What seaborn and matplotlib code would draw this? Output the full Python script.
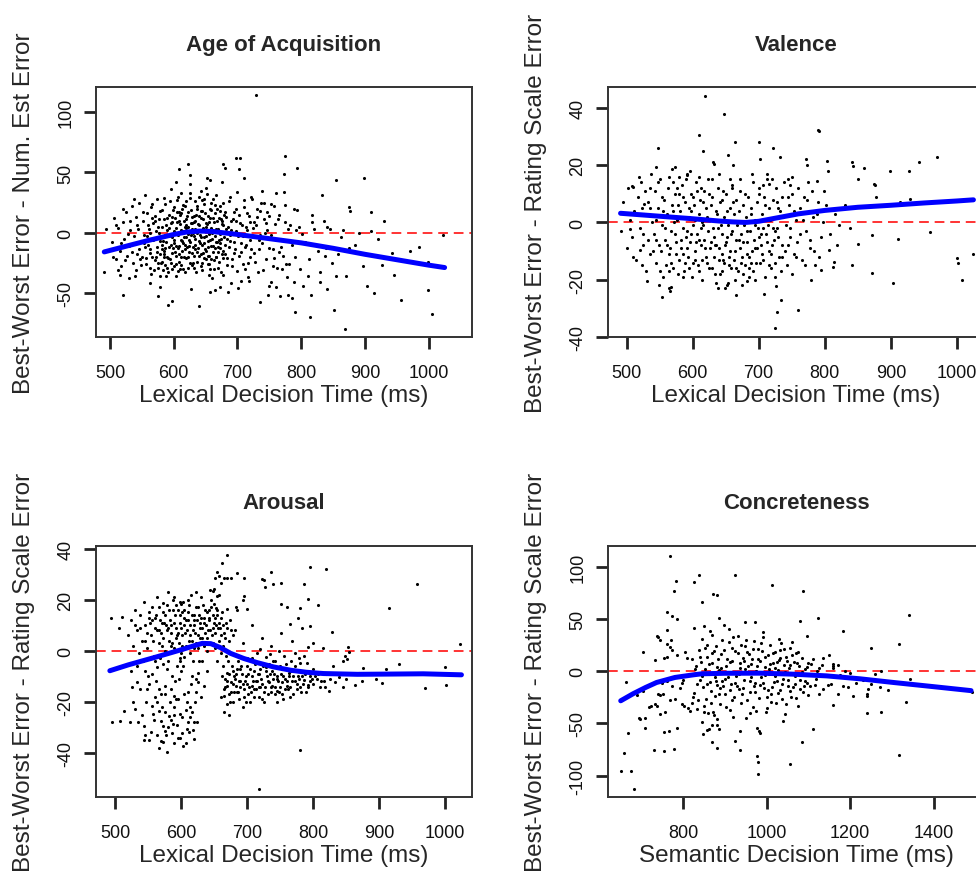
import matplotlib
matplotlib.use("Agg")
import matplotlib.pyplot as plt
import seaborn as sns

# ---- data (x = decision time in ms, y = error difference) ----

aoa_points = [
    (503, -8), (507, 12), (510, -22), (512, 4), (515, -15), (518, -28), (520, 9), (522, -5),
    (525, 17), (527, -19), (530, -11), (532, 2), (534, 22), (536, -25), (538, -3), (540, 13),
    (541, -31), (543, 6), (545, -14), (546, 25), (548, -7), (550, -20), (551, 10), (553, -2),
    (555, 31), (556, -26), (558, 16), (559, -10), (561, 3), (562, -17), (564, 21), (565, -34),
    (567, 8), (568, -6), (570, -23), (571, 14), (573, -12), (574, 28), (576, -29), (577, 0),
    (578, -18), (579, 18), (581, -24), (582, 5), (583, -31), (584, 11), (585, -15), (586, -27),
    (587, 24), (588, -8), (589, -20), (590, 2), (591, -33), (592, 15), (593, -12), (594, -22),
    (595, 8), (596, 36), (597, -4), (598, -17), (599, 19), (600, -28), (601, -9), (602, 12),
    (603, -19), (604, 4), (605, 27), (606, -13), (607, -2), (608, 17), (609, -24), (610, 7),
    (611, -6), (612, 33), (613, -15), (614, 1), (615, -30), (616, 10), (617, -10), (618, 22),
    (619, -4), (620, -21), (621, 14), (622, -1), (623, 5), (624, -16), (625, 40), (626, -8),
    (627, 19), (628, -27), (629, 3), (630, -12), (631, 9), (632, -19), (633, 26), (634, -5),
    (635, 15), (636, -24), (637, 0), (638, -13), (639, 30), (640, 6), (641, -9), (642, 18),
    (643, -18), (644, 2), (645, -31), (646, 11), (647, -4), (648, 24), (649, -14), (650, 37),
    (651, -22), (652, 7), (653, -7), (654, 14), (655, -26), (656, -1), (657, 20), (658, -11),
    (659, 4), (660, -38), (661, 28), (662, -16), (663, 9), (664, -3), (665, 16), (666, -20),
    (667, 31), (668, -8), (669, 1), (670, -29), (671, 12), (672, -13), (673, 22), (674, -5),
    (675, 42), (676, -18), (677, 6), (678, -35), (679, 15), (680, -10), (682, 3), (684, -21),
    (686, 26), (688, -7), (690, 10), (692, -28), (694, 17), (696, -14), (698, 1), (700, 34),
    (702, -19), (704, 8), (706, -40), (708, -3), (710, 21), (712, -12), (714, 5), (716, -25),
    (718, 14), (720, -6), (723, 28), (726, -17), (729, 6), (732, -33), (735, 18), (738, -9),
    (741, 11), (744, -22), (747, 2), (750, -44), (753, 24), (756, -14), (759, 7), (762, -29),
    (765, 15), (768, -5), (771, -19), (774, 9), (777, -37), (780, 3),
    (592, -3), (597, 9), (603, -26), (608, -11), (611, 16), (616, -20), (619, 6), (624, -6),
    (628, 13), (633, -10), (637, 20), (641, -2), (646, -17), (650, 8), (654, -12), (659, 25),
    (663, -23), (667, 3), (672, -1), (676, 10), (581, -10), (586, -2), (599, -13), (606, -32),
    (613, 20), (622, -29), (631, -3), (644, -25), (657, -30), (669, -16), (555, -12), (563, -29),
    (572, -20), (579, -36), (584, -18), (589, -29), (547, -22), (558, -3), (566, 12), (575, 5),
    (542, -18), (544, 3), (549, -27), (552, 17), (554, -9), (557, -21), (560, 6), (563, -14),
    (566, 24), (569, -31), (572, 1), (574, -16), (577, 11), (580, -25), (582, 19), (583, -7),
    (585, 29), (587, -13), (588, -36), (590, 12), (591, -21), (593, 4), (594, 26), (596, -10),
    (597, -30), (598, 13), (600, -6), (601, 21), (602, -16), (604, -36), (605, 9), (606, -1),
    (607, 30), (609, -18), (610, 15), (611, -27), (612, 2), (614, -9), (615, 23), (617, -14),
    (618, -33), (619, 11), (620, 4), (622, -20), (623, 17), (624, -11), (626, 29), (627, -2),
    (628, -17), (629, 8), (630, -25), (632, 14), (633, 3), (634, -14), (635, -33), (636, 22),
    (638, 7), (639, -19), (640, -7), (642, -28), (643, 12), (644, 27), (645, -10), (646, 4),
    (648, -21), (649, 16), (650, -3), (651, -15), (652, 32), (653, -26), (655, 9), (656, -19),
    (657, -6), (658, 19), (660, 0), (661, -11), (662, 12), (663, -30), (664, 23), (666, -8),
    (667, -20), (668, 10), (670, 3), (671, -24), (672, 18), (673, -9), (674, -33), (675, 7),
    (677, -15), (678, 25), (679, -4), (681, -18), (682, 13), (683, -27), (685, 5), (687, -12),
    (688, 30), (689, -2), (691, -22), (693, 11), (695, -8), (697, 20), (699, -32), (701, -3),
    (703, 15), (705, -16), (707, 6), (709, -26), (711, 27), (713, -10), (715, 2), (717, -37),
    (719, 9), (722, -14), (725, 4), (728, -24), (731, 13), (734, -6), (737, 25), (740, -31),
    (743, 0), (746, 17), (749, -13), (752, -2), (757, -21), (763, 11), (769, -12), (776, -26),
    (783, 6), (790, -20), (798, -30), (806, -8), (812, -22), (820, 3), (826, -15), (835, 10),
    (848, -25), (858, -18), (866, 2), (885, -10), (897, -28), (920, -5), (945, -35), (985, -12),
    (505, -20), (509, 6), (513, -31), (517, -9), (521, 20), (524, -23), (528, -1), (531, 10),
    (535, -16), (539, -36), (537, 28),
    (596, -25), (601, 1), (604, -11), (609, 10), (612, -20), (616, -4), (618, 5), (621, -12),
    (625, -25), (627, 8), (630, 0), (634, 10), (637, -16), (640, 14), (643, -4), (645, 18),
    (648, -9), (651, 5), (654, -19), (657, 12), (660, -5), (662, 2), (665, -13), (668, 20),
    (671, -6), (674, 11), (677, -21), (680, 17), (588, 6), (585, -20), (582, -14), (578, -7),
    (575, -25), (570, 10), (566, -20), (562, 0), (605, 17), (613, -7), (620, 26), (632, -29),
    (647, 28), (658, -22), (670, -12), (683, -5), (690, 2), (694, -17), (698, 10), (706, -9),
    (710, -2), (715, 16), (720, -20), (726, 9), (733, -14), (610, -30), (625, 33), (655, -35),
    (642, 35),
    (729, 114), (775, 64), (793, 54), (704, 62), (623, 57), (608, 53), (855, 44), (898, 45),
    (832, 31), (773, 49), (875, 21), (877, 18), (910, 17), (930, 10), (891, 0), (910, 1),
    (1022, -2), (942, -17), (970, -15), (927, -27), (999, -24), (903, -44), (914, -50), (957, -56),
    (999, -48), (1006, -68), (869, -80), (852, -64), (814, -70), (791, -66), (871, -36), (854, -36),
    (840, -47), (839, -13), (838, -19), (841, 5), (845, 3), (862, -4), (875, -13), (829, -33),
    (829, -41), (815, -52), (803, -44), (811, -36), (817, 15), (817, 9), (802, -1), (792, 2),
    (796, 5), (789, 20), (794, 19), (773, 34), (775, 23), (781, -26), (789, -41), (780, -52),
    (786, -54), (767, -53), (735, -58), (753, -41), (640, -61), (627, -47), (591, -60), (575, -53),
    (520, -52), (491, -33), (493, 3), (530, -38), (516, -35), (562, -42), (578, -45), (597, -57),
    (657, -49), (664, -48), (685, -49), (701, -46), (697, 62), (678, 57), (681, 54), (625, 48),
    (604, 42), (703, 53), (710, 45), (652, 45), (657, 44), (739, 35), (761, 33),
    (722, 30), (730, 20), (742, 25), (750, 14), (758, 22), (745, 8), (735, -2), (755, -28),
    (765, -16), (770, -30), (785, -10), (760, -45), (748, -52), (712, -30), (718, -40), (690, -42),
    (672, -45),
]
aoa_curve_x = [491, 520, 560, 600, 620, 640, 660, 700, 750, 800, 850, 900, 950, 1000, 1025]
aoa_curve_y = [-16, -12, -6.5, -1.5, 0.5, 1.3, 1.0, -1.5, -5, -8.5, -13, -18, -22.5, -27, -29]

valence_points = [
    (495, 7), (500, -9), (503, 12), (506, 1), (509, -5), (512, 4), (514, -13), (517, 9),
    (520, -2), (522, 14), (525, -8), (527, 3), (530, -17), (532, 7), (535, -11), (537, 17),
    (539, 0), (541, -4), (543, 11), (545, -14), (547, 5), (549, -8), (551, 15), (553, -1),
    (555, -19), (557, 8), (559, -6), (561, 3), (563, 12), (565, -11), (567, -3), (569, 6),
    (571, -16), (573, 10), (575, -7), (577, 1), (579, -13), (581, 4), (582, -9), (584, 13),
    (585, -2), (587, -17), (588, 7), (590, -5), (591, 17), (593, -12), (594, 2), (596, -7),
    (597, 10), (599, -19), (600, -1), (602, 6), (603, -10), (605, 14), (606, -4), (608, -15),
    (609, 3), (611, 8), (612, -8), (614, -20), (615, 0), (617, 11), (618, -6), (620, -12),
    (621, 5), (623, -3), (624, 15), (626, -9), (627, 1), (629, -16), (630, 9), (632, -5),
    (633, -12), (635, 4), (636, -8), (638, 12), (639, -2), (641, -18), (642, 7), (644, -11),
    (645, -4), (647, 2), (648, -14), (650, 10), (651, -7), (653, -1), (654, -21), (656, 5),
    (657, -10), (659, 13), (660, -3), (662, -13), (663, 3), (665, -6), (666, 8), (668, -17),
    (669, 0), (671, -9), (672, 11), (674, -4), (675, -12), (677, 6), (678, -1), (680, -15),
    (681, 2), (683, -7), (684, 9), (686, -19), (687, -3), (689, 5), (690, -10), (692, 14),
    (693, -6), (695, 1), (696, -14), (698, 7), (699, -2), (701, 10), (703, -8), (705, 3),
    (707, -13), (709, 6), (711, -4), (713, 17), (715, -10), (717, 1), (719, -16), (721, 8),
    (723, -6), (726, 12), (728, -2), (731, -12), (733, 4), (736, -8), (738, 14), (741, -1),
    (743, -15), (746, 6), (748, -5), (751, 10), (753, -11), (756, 1), (758, -7), (762, 5),
    (765, -13), (768, 9), (771, -3), (775, 14), (778, -9), (782, 2), (786, -15), (790, 7),
    (795, -5), (799, 11),
    (560, -15), (566, -9), (572, 0), (578, 6), (586, -11), (592, -3), (598, 4), (604, -13),
    (610, -6), (616, -1), (622, -14), (628, -7), (634, -18), (640, -9), (646, -13), (652, -5),
    (658, -16), (664, -10), (670, -6), (676, -18), (682, -11), (688, -14), (694, -9), (700, -5),
    (706, -2), (712, -7), (718, -11), (724, -3), (730, 5), (580, 10), (590, 15), (600, 9),
    (612, 12), (630, 15), (645, 8), (660, 12), (555, 4), (545, -6), (535, 5), (525, -4),
    (552, -10), (554, 9), (558, -2), (562, -8), (564, 16), (568, -14), (570, 4), (574, -4),
    (576, 12), (578, -18), (583, -6), (586, 9), (589, -14), (592, -9), (595, 5), (598, -4),
    (601, -14), (604, 1), (607, 11), (610, -17), (613, -2), (616, 7), (619, -9), (622, 2),
    (625, -16), (628, 6), (631, -2), (634, -8), (637, 3), (640, -13), (643, -1), (646, 11),
    (649, -8), (652, 4), (655, -15), (658, -4), (661, 7), (664, -20), (667, -1), (670, 4),
    (673, -14), (676, -7), (679, 10), (682, -3), (685, -12), (688, 3), (691, -17), (694, -1),
    (697, -9), (700, 12), (702, -14), (704, -4), (708, 9), (710, -19), (714, -1), (716, 5),
    (720, -8), (722, -2), (725, -14), (727, 7), (730, -5), (734, -17), (737, 2), (740, -10),
    (744, 9), (747, -2), (750, -18), (754, 4), (757, -12), (760, 12), (763, -4), (767, 1),
    (770, -15), (773, 8), (777, -6), (780, 11), (784, -10), (788, 3), (792, -12), (797, 0),
    (802, 6), (808, -4), (815, 3), (822, -1), (830, 6), (838, -2), (510, -12), (515, 3),
    (519, 16), (523, -15), (528, 11), (533, -6), (536, 12), (540, -10), (544, 1), (548, 14),
    (550, -17), (556, 2), (605, -7), (615, -13), (635, -21), (645, -17), (655, -12), (665, -16),
    (675, -22), (685, -16), (695, -20), (705, -11), (715, -15), (725, -19), (735, -12), (745, -8),
    (595, -16), (585, -19), (575, -11), (565, -17), (570, 14), (580, 16), (596, 18), (610, 16),
    (625, 10), (640, 17), (656, 15), (672, 15), (690, 17), (706, 13), (720, 15), (735, 9),
    (750, 16),
    (619, 44), (648, 38), (790, 32.4), (792, 31.8), (609, 30.5), (548, 26), (616, 25), (664, 28),
    (700, 28), (721, 26), (702, 22), (732, 23), (970, 23), (942, 21), (928, 18), (899, 18),
    (859, 19), (842, 21), (843, 19.7), (804, 21.6), (805, 17.8), (772, 22), (773, 20), (788, 14.5),
    (850, 15), (874, 13.5), (876, 13), (914, 7), (911, 6.6), (929, 8.3), (878, 9), (1025, -11),
    (1000, -12.5), (1001, -14), (1008, -20), (959, -3.2), (911, -5.8), (904, -21), (871, -17.7), (872, -4.4),
    (842, -15), (851, -7.4), (813, -15.7), (814, -13.7), (807, -9.6), (818, -8), (795, -16.5), (779, -20),
    (759, -30.4), (734, -27), (728, -31.4), (725, -36.8), (726, -22.3), (708, -25), (682, -20.6), (665, -25.2),
    (652, -22), (649, -23), (638, -23), (553, -26), (549, -22), (565, -23), (566, -24), (567, -22.5),
    (531, -20.6), (492, -3), (505, -2.3), (508, 12.7), (510, 12.5), (520, -9.6), (526, 6.6), (524, 4.9),
    (545, 19.3), (569, 18.7), (574, 19.3), (591, 16.4), (631, 21), (633, 20.5), (654, 23.4), (661, 20),
    (712, 15), (716, 13.5), (744, 15), (747, 13),
]
valence_curve_x = [491, 520, 560, 600, 640, 660, 680, 700, 730, 760, 800, 850, 900, 950, 1000, 1025]
valence_curve_y = [3.2, 2.7, 2.0, 1.3, 0.5, 0.2, 0.0, 0.4, 1.7, 3.0, 4.2, 5.3, 6.0, 6.8, 7.5, 7.9]

arousal_points = [
    (695, -15), (700, -13), (708, -13.7), (715, -11.7), (720, -14.3), (725, -16.3), (733, -12.4), (738, -13.9),
    (746, -15.6), (753, -12.4), (761, -13.7), (768, -11.7), (776, -13), (786, -11.3), (793, -13.4), (806, -11),
    (816, -11.7), (824, -15.9), (834, -12.4), (839, -10.4), (690, -7.2), (700, -5.9), (710, -7.8), (718, -9.1),
    (728, -6.5), (738, -7.8), (746, -9.8), (753, -7.2), (763, -8.5), (773, -5.9), (783, -7.8), (791, -4.6),
    (796, -9.8), (680, -9.8), (688, -11.7), (675, -12.4), (683, -13.7), (670, -8.5), (677, -5.9), (715, -0.7),
    (720, 0.7), (728, -2.6), (735, -1.3), (743, -3.9), (748, 0), (756, -2), (766, -3.9), (773, -0.7),
    (786, -2), (793, 1.3), (781, -4.6), (753, -16.9),
    (662, -10), (666, -14), (672, -17), (678, -8), (684, -16), (690, -12), (696, -18), (702, -9),
    (706, -16), (712, -5), (718, -14), (722, -19), (730, -10), (742, -17), (750, -6), (758, -15),
    (764, -10), (770, -17), (780, -14), (790, -16), (800, -7), (810, -14), (820, -9), (830, -6),
    (845, -14), (655, -4), (660, -18), (668, -2), (674, -20), (686, -4), (694, -22), (704, -20),
    (665, -24), (672, -25), (700, -3), (726, -20), (740, -4), (755, -19),
    (664, -6), (669, -12), (673, -9), (676, -16), (681, -11), (685, -7), (689, -14), (692, -9),
    (697, -12), (701, -17), (705, -7), (709, -12), (713, -15), (716, -9), (721, -11), (724, -6),
    (727, -14), (731, -17), (735, -9), (739, -11), (743, -14), (747, -12), (751, -9), (757, -11),
    (762, -15), (767, -8), (772, -12), (777, -10), (782, -16), (788, -9), (795, -12), (803, -10),
    (812, -12), (825, -11), (707, -3), (733, -5), (759, -5), (778, -3), (698, -20), (718, -18),
    (688, -19), (745, -20), (765, -18), (680, -16), (736, -16), (710, -15), (750, -14), (785, -13),
    (800, -13),
    (667, -11), (671, -4), (679, -13), (683, -9), (687, -16), (691, -6), (694, -13), (699, -10),
    (703, -14), (707, -10), (711, -18), (714, -12), (719, -7), (723, -13), (729, -8), (732, -12),
    (737, -14), (741, -9), (745, -11), (749, -16), (754, -10), (760, -12), (765, -14), (769, -10),
    (775, -15), (779, -11), (784, -10), (792, -14), (798, -11), (808, -9), (818, -14), (836, -9),
    (850, -11), (862, -9),
    (520, 6), (524, 12), (527, 2), (530, 16), (533, 8), (536, -1), (538, 14), (541, 4),
    (544, 19), (546, 10), (549, 1), (551, 13), (554, 6), (556, 17), (559, -2), (561, 9),
    (563, 21), (566, 3), (568, 12), (570, 7), (572, 15), (575, 0), (577, 10), (579, 18),
    (581, 4), (583, 12), (585, 7), (587, 20), (589, 1), (591, 14), (593, 9), (595, 16),
    (597, 3), (599, 11), (601, 6), (603, 19), (605, 13), (607, 2), (609, 8), (611, 15),
    (613, 10), (615, 22), (617, 4), (619, 12), (621, 7), (623, 17), (625, 1), (627, 14),
    (629, 9), (631, 5), (633, 18), (635, 11), (637, 3), (639, 15), (641, 8), (643, 12),
    (645, 20), (647, 6), (649, 14), (651, 1), (653, 10), (655, 16), (657, 4), (659, 9),
    (661, 13), (663, 2), (665, 7), (668, 11), (672, 4), (676, 8),
    (545, 4), (553, 11), (562, 14), (571, 2), (580, 9), (588, 16), (596, 7), (604, 10),
    (612, 4), (620, 14), (628, 11), (636, 7), (644, 3), (652, 13), (660, 6), (566, 8),
    (584, 2), (602, 15), (618, 8), (634, 13), (648, 9), (556, 12), (574, 11), (592, 5),
    (610, 12), (626, 6), (642, 16), (658, 11), (538, 9), (530, 10),
    (548, 7), (552, 15), (557, 4), (560, 13), (564, 8), (567, 17), (571, 11), (573, 5),
    (576, 14), (578, 8), (582, 16), (584, 10), (586, 3), (590, 11), (592, 18), (594, 6),
    (598, 14), (600, 9), (602, 2), (604, 16), (606, 7), (608, 12), (612, 18), (614, 6),
    (616, 14), (620, 10), (622, 3), (624, 12), (626, 17), (628, 5), (630, 13), (632, 9),
    (634, 2), (636, 16), (638, 10), (640, 5), (642, 13), (644, 8), (646, 17), (648, 3),
    (650, 11), (652, 7), (654, 14), (656, 9), (658, 2), (662, 15), (664, 10), (666, 5),
    (670, 9), (674, 12), (678, 6), (580, -1), (600, -1), (620, 1), (640, 0), (660, -1),
    (590, 21), (610, 20), (630, 21), (650, 24), (622, 23),
    (543, -4), (556, -9), (568, -3), (579, -7), (591, -12), (603, -6), (614, -1), (627, -4),
    (639, -8), (548, -15), (562, -12), (586, -10), (598, -3), (610, -16), (622, -11), (533, -6),
    (575, -17), (596, -19), (630, -18), (616, -24), (589, -22), (560, -18),
    (524, -8), (537, -15), (540, -25), (547, -20), (552, -13), (559, -27), (563, -33), (566, -15),
    (571, -22), (576, -24), (580, -30), (583, -20), (586, -32), (590, -25), (594, -29), (597, -11),
    (601, -32), (605, -17), (607, -23), (611, -28), (615, -13), (618, -31), (621, -20), (600, -8),
    (560, -4), (580, -4), (618, -4), (526, -14), (545, -33), (567, -38), (590, -36), (608, -36),
    (718, -54), (780, -39), (958, 26.3), (915, 16.8), (1023, 2.6), (1000, -6.5), (1001, -13.4), (970, -14.7),
    (930, -5), (911, -7.2), (904, -12.6), (896, -11), (876, -6.9), (874, -11.7), (870, -8.5), (863, -13.4),
    (853, 1.3), (855, -0.4), (848, -2), (851, -3.3), (846, -3.9), (829, 7.2), (819, 31.9), (796, 32.6),
    (787, 26), (793, 20.4), (808, 18), (796, 9.8), (781, 16.8), (777, 13), (760, 17.3), (765, 10.4),
    (751, 18.2), (737, 30.9), (751, 26.4), (723, 28), (725, 27.7), (739, 26), (727, 25), (695, 28.6),
    (685, 30.3), (676, 28.4), (669, 37.4), (662, 34.4), (655, 30.9), (657, 29.3), (651, 28.3), (661, 26.7),
    (665, 28.3), (670, 28.6), (644, 23.8), (649, 23.3), (655, 21.5), (658, 22), (650, 18.2), (653, 16.9),
    (695, 21.5), (694, 20), (700, 16.3), (670, 16.3), (683, 17.2), (685, 15.9), (580, 23), (598, 19.1),
    (600, 18.2), (572, 18.6), (493, 13), (510, 13.4), (506, 9.1),
    (495, -28), (508, -27.3), (513, -23.4), (522, -27.7), (527, -20), (530, -22.8), (533, -12.4), (534, -28),
    (544, -29.3), (544, -34.8), (551, -34.8), (554, -31.9), (556, -21.5), (557, -24.7), (564, -20.2), (567, -23.4),
    (569, -27.3), (572, -29.3), (575, -31.3), (577, -32.9), (570, -35.2), (573, -35.8), (579, -39.7), (582, -25.4),
    (584, -27), (587, -28.6), (595, -34.2), (598, -34.2), (603, -37.4), (609, -30.6), (612, -31.6), (619, -34.5),
    (599, -24.7), (602, -26), (614, -26), (620, -27.7), (624, -28), (609, -20.2), (614, -22), (589, -17.6),
    (593, -18.9), (584, -15), (575, -13.7), (569, -17), (546, -7.8), (550, -9.8), (564, -6.5), (572, -5.2),
    (594, -5.9), (599, -3.9), (604, -2.6), (617, -9.8), (625, -8.5), (632, -3.9), (625, -12.4), (635, -13.7),
    (622, -16.3), (670, -20.8), (679, -20.2), (665, -15), (670, -13.7), (665, -17.6),
    (682, 8), (694, 3), (708, 10), (722, 5), (736, 2), (752, 7), (768, 4), (784, 9),
    (800, 3), (815, 1),
]
arousal_curve_x = [492, 520, 564, 604, 620, 632, 645, 660, 675, 695, 715, 740, 766, 790, 816, 867, 920, 967, 1025]
arousal_curve_y = [-7.8, -5.5, -2.3, 0.7, 2.0, 2.9, 2.8, 1.2, -1.0, -3.0, -4.6, -6.3, -7.6, -8.4, -8.9, -9.2, -9.1, -9.0, -9.4]

concrete_points = [
    (822, 12), (826, -21), (830, 5), (833, -36), (838, 20), (841, -8), (845, 31), (848, -15),
    (852, 2), (855, -27), (858, 14), (861, -3), (864, 38), (867, -19), (870, 8), (873, -42),
    (876, -6), (879, 24), (882, -13), (885, 1), (888, -31), (891, 16), (894, -9), (897, 44),
    (900, -22), (903, 5), (906, -2), (909, 28), (912, -37), (915, -12), (918, 10), (921, -25),
    (924, 19), (927, -5), (930, 34), (933, -17), (936, 3), (939, -30), (942, 13), (945, -8),
    (948, 24), (951, -45), (954, -1), (957, 16), (960, -20), (963, 7), (966, -34), (969, 29),
    (972, -11), (975, 0), (978, 21), (981, -26), (984, 10), (987, -6), (990, 33), (993, -16),
    (996, 4), (999, -39), (1002, 15), (1005, -3), (1008, 25), (1011, -22), (1014, 8), (1017, -10),
    (1020, 18), (1023, -30), (1026, 1), (1029, 11), (1032, -18), (1035, 27), (1038, -7), (1041, 6),
    (1044, -41), (1047, 14), (1050, -14), (1053, 3), (1056, 22), (1059, -25), (1062, -2), (1065, 9),
    (1068, -12), (1071, 17), (1074, -33), (1077, 5), (1080, -8), (1084, 13), (1088, -20), (1092, 2),
    (1096, -11), (1100, 8), (1105, -4), (1110, 12), (1115, -13), (1120, 0), (1126, -22), (1132, 6),
    (832, -12), (843, 9), (850, -33), (857, 25), (863, -10), (869, 17), (875, -24), (881, 4),
    (887, -16), (893, 30), (899, -7), (905, 12), (911, -18), (917, 22), (923, -1), (929, -14),
    (935, 8), (941, -22), (947, 2), (953, 18), (959, -9), (965, 12), (971, -20), (977, 5),
    (983, -13), (989, 19), (995, -4), (1001, -25), (1007, 7), (1013, -15), (1019, 3), (1025, -9),
    (1031, 20), (1037, -27), (1043, -1), (1049, 10), (1055, -19), (1061, 15), (1067, -5), (1073, 8),
    (1079, -17), (1085, -1), (1091, -9), (1097, 4), (1103, -14), (1109, -3), (860, -40), (880, -46),
    (920, -44), (960, -40), (1000, -35), (1040, -48), (870, 35), (910, 40), (950, 30), (990, 37),
    (1030, 31), (1060, 28),
    (828, 2), (836, -28), (840, 14), (846, -5), (853, 22), (856, -12), (862, 7), (866, -30),
    (871, -2), (874, 19), (878, -9), (883, 12), (886, -22), (890, 3), (895, -14), (898, 20),
    (902, -34), (907, -6), (913, 9), (916, -28), (919, 33), (925, -11), (931, 17), (934, -3),
    (938, 25), (943, -16), (946, 10), (952, -28), (956, 5), (962, -6), (967, 21), (970, -14),
    (974, -38), (979, 12), (982, -2), (986, 27), (992, -11), (997, 14), (1003, -18), (1006, 2),
    (1010, -29), (1016, 17), (1021, -5), (1024, 9), (1028, -21), (1033, 13), (1036, -12), (1042, 21),
    (1046, -31), (1052, -8), (1057, 6), (1063, -15), (1070, -26), (1075, 18), (1082, -3), (1090, -14),
    (1098, -23), (1106, 7), (1118, -7), (1125, 3), (1140, -4), (1155, -12), (1170, 6), (1200, -2),
    (1230, -8), (1260, -3),
    (769, 110), (837, 92), (826, 85), (783, 86), (777, 77), (923, 92), (1012, 82), (1086, 77),
    (872, 74), (881, 73), (845, 66), (762, 57), (773, 53), (784, 50), (1340, 54), (1122, 51),
    (1081, 48), (885, 51), (948, 47), (972, 47), (1183, 38), (760, 39), (736, 34), (740, 33),
    (825, 41), (849, 43), (1096, 34), (1317, 26), (1249, 22), (704, 18), (761, 26), (768, 23),
    (772, 20), (754, 13), (761, 14), (732, 11), (786, 15), (804, 18), (808, 13), (1134, 13),
    (1150, 15), (1158, 3), (1188, 0), (1273, 0), (1214, -11), (1196, -15), (1250, -12), (1243, -17),
    (1271, -15), (1292, -18), (1240, -22), (1241, -24), (1344, -7), (1333, -29), (1493, -20), (1240, -40),
    (1273, -39), (1317, -80), (1208, -24), (1184, -14), (1172, -22), (1158, -32), (1176, -4), (1188, -6),
    (1158, 5), (1160, 7), (1136, -17), (1148, -13), (1111, -55), (1085, -68), (1057, -89), (980, -98),
    (976, -81), (980, -87), (981, -57), (983, -59), (976, -54), (936, -75), (925, -67), (936, -57),
    (869, -68), (881, -73), (868, -51), (882, -51), (885, -55), (861, -55), (856, -56), (848, -60),
    (844, -49), (849, -39), (872, -39), (753, -76), (778, -74), (729, -75), (765, -57), (754, -58),
    (786, -54), (709, -45), (709, -54), (694, -45), (697, -46), (650, -95), (674, -95), (681, -113),
    (657, -78), (668, -59), (662, -10), (704, -19), (740, -22), (744, -23), (752, -22), (733, -31),
    (736, -33), (756, -39), (744, -41), (798, -31), (802, -33), (812, -35), (816, -38), (820, -30),
    (824, -25), (768, -28), (780, -27), (792, -16), (798, -11), (800, -8), (748, -11), (760, -9),
    (772, -14), (745, 30), (770, 30), (688, -23), (717, -34), (722, -33),
]
concrete_curve_x = [650, 680, 710, 736, 780, 824, 844, 900, 984, 1060, 1144, 1224, 1304, 1400, 1490]
concrete_curve_y = [-28.3, -21.5, -15.5, -10.8, -6, -3.5, -2.5, -2.0, -1.9, -2.8, -4.5, -7.3, -10.8, -14.8, -18.6]

titles = ["Age of Acquisition", "Valence", "Arousal", "Concreteness"]
x_labels = ["Lexical Decision Time (ms)", "Lexical Decision Time (ms)",
            "Lexical Decision Time (ms)", "Semantic Decision Time (ms)"]
y_labels = ["Best-Worst Error - Num. Est Error", "Best-Worst Error - Rating Scale Error",
            "Best-Worst Error - Rating Scale Error", "Best-Worst Error - Rating Scale Error"]
x_ticks = [[500, 600, 700, 800, 900, 1000]] * 3 + [[800, 1000, 1200, 1400]]
y_ticks = [[-50, 0, 50, 100], [-40, -20, 0, 20, 40], [-40, -20, 0, 20, 40], [-100, -50, 0, 50, 100]]
x_limits = [(478, 1068), (472, 1041), (471, 1041), (619.5, 1521)]
y_limits = [(-86.7, 121), (-40, 47.3), (-57.2, 41), (-120.3, 119.7)]

panels = [
    (aoa_points, aoa_curve_x, aoa_curve_y),
    (valence_points, valence_curve_x, valence_curve_y),
    (arousal_points, arousal_curve_x, arousal_curve_y),
    (concrete_points, concrete_curve_x, concrete_curve_y),
]

# ---- style ----
sns.set_style("ticks")
plt.rcParams['font.family'] = ['Liberation Sans', 'DejaVu Sans']
plt.rcParams['axes.unicode_minus'] = False

W, H = 976, 879
fig = plt.figure(figsize=(W / 100, H / 100), dpi=100)

# axes boxes in pixels: left, top, width, height (right column runs past the crop)
boxes = [(96, 88, 376, 250), (608, 88, 376, 250), (96, 547, 376, 251), (608, 547, 376, 251)]

for i, (pts, cx, cy) in enumerate(panels):
    l, t, w, h = boxes[i]
    ax = fig.add_axes([l / W, 1 - (t + h) / H, w / W, h / H])
    xs = [p[0] for p in pts]
    ys = [p[1] for p in pts]
    ax.axhline(0, color='#ff3333', lw=1.4, ls=(0, (5, 3)), zorder=1)
    sns.scatterplot(x=xs, y=ys, ax=ax, s=5, color='black', linewidth=0, zorder=2)
    sns.lineplot(x=cx, y=cy, ax=ax, color='#0000ff', lw=3.6, estimator=None, zorder=3)

    ax.set_xlim(*x_limits[i])
    ax.set_ylim(*y_limits[i])
    ax.set_xticks(x_ticks[i])
    ax.set_yticks(y_ticks[i])
    ax.set_title(titles[i], fontsize=16, fontweight='bold', pad=27)
    ax.set_xlabel(x_labels[i], fontsize=17.5, labelpad=2)
    ax.set_ylabel(y_labels[i], fontsize=17.5, labelpad=16)
    ax.tick_params(direction='out', length=8.5, width=2.0, color='#222222',
                   labelsize=13, labelcolor='#111111',
                   bottom=True, left=True, top=False, right=False)
    ax.tick_params(axis='x', pad=11)
    ax.tick_params(axis='y', pad=7, labelrotation=90)
    for lab in ax.get_yticklabels():
        lab.set_va('center')
    for sp in ax.spines.values():
        sp.set_visible(True)
        sp.set_linewidth(1.4)
        sp.set_color('#333333')

fig.savefig('out.png', dpi=100)
